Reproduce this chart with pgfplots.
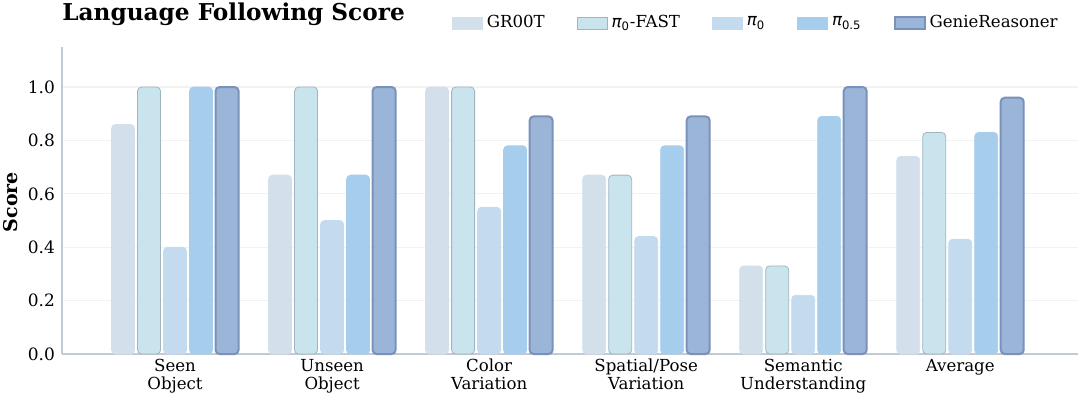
\documentclass[border=0pt]{standalone}
\usepackage{fontspec}
\setmainfont{DejaVu Serif}
\newfontfamily\dvs{DejaVu Sans}
\usepackage{pgfplots}
\pgfplotsset{compat=1.18}
\definecolor{cA}{HTML}{D3E0EC}
\definecolor{cB}{HTML}{C9E4ED}
\definecolor{cBd}{HTML}{9FB5C0}
\definecolor{cC}{HTML}{C4DBEF}
\definecolor{cD}{HTML}{A7CDEC}
\definecolor{cE}{HTML}{9BB5D9}
\definecolor{cEd}{HTML}{7A92BA}
\definecolor{spine}{HTML}{C2CAD6}
\newcommand{\pisub}[1]{{\dvs\itshape π}\textsubscript{\dvs #1}}
\begin{document}
\begin{tikzpicture}
\path[use as bounding box] (-31pt,-21pt) rectangle (509pt,177pt);
\begin{axis}[
  at={(0pt,0pt)}, anchor=south west,
  scale only axis, width=508pt, height=153.5pt,
  ybar=1.5pt, bar width=11.5pt,
  xmin=-0.72, xmax=5.75, ymin=0, ymax=1.15,
  xtick={0,1,2,3,4,5},
  xticklabels={Seen\\Object, Unseen\\Object, Color\\Variation, Spatial/Pose\\Variation, Semantic\\Understanding, Average},
  xticklabel style={align=center, font=\fontsize{8.3}{9}\selectfont, yshift=1pt},
  ytick={0,0.2,0.4,0.6,0.8,1.0},
  yticklabel style={font=\fontsize{8.5}{9}\selectfont, /pgf/number format/fixed, /pgf/number format/fixed zerofill, /pgf/number format/precision=1},
  /pgf/number format/assume math mode=true,
  major tick length=0pt,
  ymajorgrids, grid style={color=black!5, line width=0.6pt},
  axis x line*=bottom, axis y line*=left,
  axis line style={color=spine, line width=0.7pt},
  x axis line style={-}, y axis line style={-},
  legend columns=5,
  legend style={draw=none, fill=none, at={(1.0,1.0)}, anchor=south east, yshift=4pt, xshift=-5pt,
    font=\fontsize{8.3}{9}\selectfont, /tikz/every even column/.append style={column sep=14pt}},
  legend image code/.code={\draw[#1, rounded corners=0pt] (0pt,-3pt) rectangle (15pt,3pt);},
  every axis plot/.append style={rounded corners=2pt},
  clip=false,
]
\addplot[fill=cA, draw=cA] coordinates {(0,0.86) (1,0.67) (2,1.0) (3,0.67) (4,0.33) (5,0.74)};
\addplot[fill=cB, draw=cBd, line width=0.4pt] coordinates {(0,1.0) (1,1.0) (2,1.0) (3,0.67) (4,0.33) (5,0.83)};
\addplot[fill=cC, draw=cC] coordinates {(0,0.40) (1,0.50) (2,0.55) (3,0.44) (4,0.22) (5,0.43)};
\addplot[fill=cD, draw=cD] coordinates {(0,1.0) (1,0.67) (2,0.78) (3,0.78) (4,0.89) (5,0.83)};
\addplot[fill=cE, draw=cEd, line width=1pt] coordinates {(0,1.0) (1,1.0) (2,0.89) (3,0.89) (4,1.0) (5,0.96)};
\legend{GR00T, \pisub{0}-FAST, \pisub{0}, \pisub{0.5}, GenieReasoner}
\node[anchor=west, inner sep=0pt, font=\fontsize{11.6}{12}\selectfont\bfseries] at (axis cs:-0.72,1.15) [yshift=16.5pt] {Language Following Score};
\node[rotate=90, inner sep=0pt, font=\fontsize{9.5}{10}\selectfont\bfseries] at ([xshift=-25.5pt]rel axis cs:0,0.495) {Score};
\end{axis}
\end{tikzpicture}
\end{document}
